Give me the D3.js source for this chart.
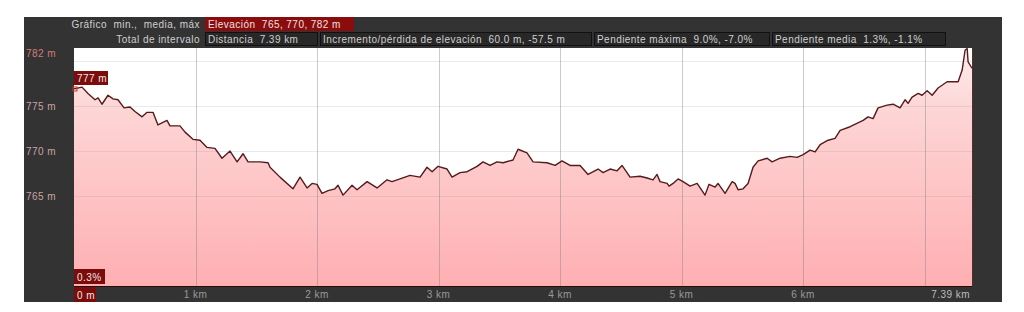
<!DOCTYPE html>
<html>
<head>
<meta charset="utf-8">
<script src="https://cdn.jsdelivr.net/npm/d3@7"></script>
<style>
  body { margin: 0; background: #fff; }
  svg text { font-family: "Liberation Sans", Arial, sans-serif; white-space: pre; }
  .hd { letter-spacing: 0.45px; }
</style>
</head>
<body>
<div id="app"></div>
<script>
// distance (km) and elevation (m)
const dist = [0, 0.066, 0.115, 0.173, 0.198, 0.23, 0.28, 0.321, 0.362, 0.412, 0.461, 0.502, 0.56, 0.601, 0.65, 0.691, 0.765, 0.79, 0.872, 0.914, 0.979,
  1.037, 1.095, 1.16, 1.218, 1.284, 1.342, 1.391, 1.432, 1.531, 1.597, 1.613, 1.695, 1.802, 1.86, 1.918, 1.959,
  2.0, 2.041, 2.091, 2.148, 2.173, 2.214, 2.288, 2.329, 2.412, 2.494, 2.576, 2.617, 2.683, 2.765, 2.848, 2.905, 2.947, 2.996,
  3.07, 3.111, 3.177, 3.235, 3.317, 3.366, 3.424, 3.481, 3.531, 3.613, 3.654, 3.728, 3.778, 3.893, 3.959,
  4.016, 4.082, 4.165, 4.23, 4.313, 4.354, 4.412, 4.469, 4.51, 4.576, 4.658, 4.716, 4.765, 4.798, 4.823, 4.881, 4.897, 4.93, 4.971,
  5.012, 5.07, 5.128, 5.193, 5.226, 5.276, 5.3, 5.358, 5.416, 5.44, 5.465, 5.506, 5.547, 5.588, 5.63, 5.704, 5.745, 5.811, 5.893, 5.951,
  6.0, 6.058, 6.099, 6.14, 6.206, 6.263, 6.305, 6.387, 6.494, 6.535, 6.576, 6.617, 6.691, 6.741, 6.798, 6.84, 6.864, 6.897, 6.947, 6.979,
  7.021, 7.062, 7.111, 7.185, 7.276, 7.309, 7.333, 7.35, 7.358, 7.39]
const elev = [776.9, 777.1, 776.4, 775.7, 775.9, 775.2, 776.2, 775.8, 775.7, 774.8, 774.9, 774.4, 773.8, 774.3, 774.3, 772.9, 773.4, 772.8, 772.8, 772.1, 771.3,
  771.2, 770.4, 770.3, 769.2, 770.0, 768.8, 769.7, 768.8, 768.8, 768.7, 768.2, 767.1, 765.8, 767.1, 765.9, 766.4,
  766.3, 765.3, 765.6, 765.8, 766.2, 765.1, 766.2, 765.7, 766.6, 765.9, 766.8, 766.6, 766.9, 767.3, 767.1, 768.2, 767.7, 768.3,
  768.0, 767.1, 767.6, 767.7, 768.3, 768.8, 768.4, 768.8, 768.7, 769.0, 770.2, 769.8, 768.8, 768.7, 768.4,
  768.9, 768.4, 768.4, 767.4, 768.0, 767.6, 768.0, 767.8, 768.4, 767.1, 767.2, 767.0, 766.8, 767.4, 766.6, 766.4, 766.1, 766.4, 766.9,
  766.6, 766.1, 766.4, 765.1, 766.3, 766.0, 766.4, 765.3, 766.6, 766.4, 765.7, 765.8, 766.4, 768.2, 768.9, 769.2, 768.8, 769.2, 769.4, 769.3,
  769.6, 770.1, 769.9, 770.7, 771.2, 771.4, 772.3, 772.7, 773.4, 773.8, 773.6, 774.8, 775.1, 775.2, 774.8, 775.7, 775.3, 776.0, 776.4, 776.2,
  776.7, 776.2, 777.0, 777.7, 777.7, 779.0, 781.2, 781.4, 779.9, 779.2]

const yTicks = [765, 770, 775]
const yGrid = [765, 770, 775, 780]
const xTicks = [1, 2, 3, 4, 5, 6, 7]
const xLabels = ['1 km', '2 km', '3 km', '4 km', '5 km', '6 km', '']

const headRow1 = [{label: 'Elevación  765, 770, 782 m', x0: 205, x1: 354}]
const headRow2 = [
  {label: 'Distancia  7.39 km', x0: 205, x1: 318},
  {label: 'Incremento/pérdida de elevación  60.0 m, -57.5 m', x0: 320, x1: 592},
  {label: 'Pendiente máxima  9.0%, -7.0%', x0: 594, x1: 770},
  {label: 'Pendiente media  1.3%, -1.1%', x0: 772, x1: 946}
]

const data = dist.map((d, i) => ({d: d, e: elev[i]}))

const svg = d3.select('#app').append('svg').attr('width', 1024).attr('height', 312)

// dark frame
svg.append('rect').attr('x', 24).attr('y', 17).attr('width', 978).attr('height', 285).attr('fill', '#333333')

const x = d3.scaleLinear().domain([0, 7.39]).range([74, 972])
const y = d3.scaleLinear().domain([755, 781.45]).range([286, 48])

// plot background
svg.append('rect').attr('x', 74).attr('y', 48).attr('width', 898).attr('height', 238).attr('fill', '#ffffff')

const grad = svg.append('defs').append('linearGradient').attr('id', 'fillgrad')
  .attr('gradientUnits', 'userSpaceOnUse').attr('x1', 0).attr('x2', 0).attr('y1', 48).attr('y2', 286)
grad.append('stop').attr('offset', 0).attr('stop-color', '#ffeded')
grad.append('stop').attr('offset', 0.25).attr('stop-color', '#fdd6d6')
grad.append('stop').attr('offset', 1).attr('stop-color', '#ffafb2')

const area = d3.area().x(d => x(d.d)).y0(286).y1(d => y(d.e))
svg.append('path').datum(data).attr('d', area).attr('fill', 'url(#fillgrad)')

// gridlines
svg.selectAll('line.hgrid').data(yGrid).enter().append('line').attr('class', 'hgrid')
  .attr('x1', 74).attr('x2', 972).attr('y1', d => Math.round(y(d)) + 0.5).attr('y2', d => Math.round(y(d)) + 0.5)
  .attr('stroke', '#8a8a8a').attr('stroke-opacity', 0.18)
svg.selectAll('line.vgrid').data(xTicks).enter().append('line').attr('class', 'vgrid')
  .attr('y1', 48).attr('y2', 286).attr('x1', d => Math.round(x(d)) + 0.5).attr('x2', d => Math.round(x(d)) + 0.5)
  .attr('stroke', '#7a7a7a').attr('stroke-opacity', 0.4)

const line = d3.line().x(d => x(d.d)).y(d => y(d.e))
svg.append('path').datum(data).attr('d', line).attr('fill', 'none')
  .attr('stroke', '#561a1c').attr('stroke-width', 1.4).attr('stroke-linejoin', 'round')

// bottom border of the plot
svg.append('line').attr('x1', 74).attr('x2', 972).attr('y1', 286.5).attr('y2', 286.5).attr('stroke', '#2a0a0a')
svg.append('line').attr('x1', 972.5).attr('x2', 972.5).attr('y1', 48).attr('y2', 286).attr('stroke', '#6a2a2a').attr('stroke-opacity', 0.6)

// y labels
svg.selectAll('text.ylab').data(yTicks).enter().append('text').attr('class', 'ylab hd')
  .attr('x', 26).attr('y', d => y(d) + 3.5).attr('font-size', 10).attr('fill', '#c9a3a3')
  .text(d => d + ' m')
svg.append('text').attr('class', 'hd').attr('x', 26).attr('y', 57).attr('font-size', 10).attr('fill', '#d77a7a').text('782 m')

// x labels
svg.selectAll('text.xlab').data(xTicks).enter().append('text').attr('class', 'xlab hd')
  .attr('x', d => x(d)).attr('y', 298).attr('text-anchor', 'middle').attr('font-size', 10).attr('fill', '#9a9a9a')
  .text((d, i) => xLabels[i])
svg.append('text').attr('class', 'hd').attr('x', 970).attr('y', 298).attr('text-anchor', 'end').attr('font-size', 10).attr('fill', '#bdbdbd').text('7.39 km')

// red value tags
function tag(tx, ty, w, h, label) {
  svg.append('rect').attr('x', tx).attr('y', ty).attr('width', w).attr('height', h).attr('fill', '#7a0c0c')
  svg.append('text').attr('class', 'hd').attr('x', tx + 3).attr('y', ty + h - 3.5).attr('font-size', 10).attr('fill', '#f2e4e4').text(label)
}
tag(74, 71, 34, 14, elev[0].toFixed(0) + ' m')
tag(74, 269, 31, 15, '0.3%')
tag(74, 287, 22, 15, '0 m')
svg.append('rect').attr('x', 73).attr('y', y(elev[0]) - 2).attr('width', 4).attr('height', 4)
  .attr('fill', 'none').attr('stroke', '#c0392b').attr('stroke-width', 1)

// header
svg.append('text').attr('class', 'hd').attr('x', 200).attr('y', 28).attr('text-anchor', 'end').attr('font-size', 10).attr('fill', '#cfcfcf')
  .text('Gráfico  min.,  media, máx')
svg.append('text').attr('class', 'hd').attr('x', 200).attr('y', 43).attr('text-anchor', 'end').attr('font-size', 10).attr('fill', '#cfcfcf')
  .text('Total de intervalo')
svg.selectAll('rect.h1').data(headRow1).enter().append('rect').attr('class', 'h1')
  .attr('x', d => d.x0).attr('y', 17).attr('width', d => d.x1 - d.x0).attr('height', 14).attr('fill', '#8a0c0c')
svg.selectAll('text.h1').data(headRow1).enter().append('text').attr('class', 'h1 hd')
  .attr('x', d => d.x0 + 3).attr('y', 28).attr('font-size', 10).attr('fill', '#f0e0e0').text(d => d.label)
svg.selectAll('rect.h2').data(headRow2).enter().append('rect').attr('class', 'h2')
  .attr('x', d => d.x0 + 0.5).attr('y', 32.5).attr('width', d => d.x1 - d.x0 - 1).attr('height', 13)
  .attr('fill', '#282828').attr('stroke', '#111')
svg.selectAll('text.h2').data(headRow2).enter().append('text').attr('class', 'h2 hd')
  .attr('x', d => d.x0 + 3).attr('y', 43).attr('font-size', 10).attr('fill', '#cfcfcf').text(d => d.label)
</script>
</body>
</html>
